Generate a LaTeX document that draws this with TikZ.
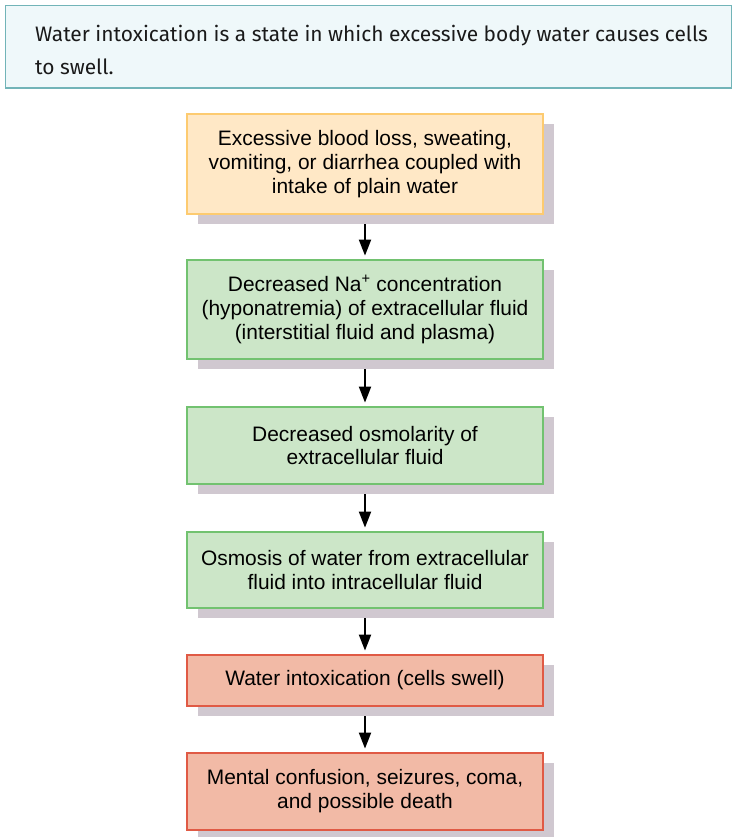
\documentclass[tikz,border=0pt]{standalone}
\usepackage{fontspec}
\setmainfont{Liberation Sans}
\newfontfamily\bannerfont{Fira Sans}
\usetikzlibrary{arrows.meta,shadows}
\definecolor{bannerfill}{HTML}{EFF8FA}
\definecolor{bannerline}{HTML}{72B4B8}
\definecolor{bannertext}{HTML}{1A1A1A}
\definecolor{orfill}{HTML}{FFE8C6}
\definecolor{orline}{HTML}{FDCB70}
\definecolor{grfill}{HTML}{CCE6C8}
\definecolor{grline}{HTML}{72C270}
\definecolor{rdfill}{HTML}{F2BAA6}
\definecolor{rdline}{HTML}{E05A45}
\definecolor{shadowc}{HTML}{D0C8D0}
\tikzset{
  box/.style={draw, line width=2.8bp, minimum width=356bp, align=center,
    font=\fontsize{21}{24}\selectfont, text=black, inner sep=0pt,
    drop shadow={shadow xshift=11bp, shadow yshift=-10bp, fill=shadowc, opacity=1, draw=none}},
  orbox/.style={box, fill=orfill, draw=orline},
  grbox/.style={box, fill=grfill, draw=grline},
  rdbox/.style={box, fill=rdfill, draw=rdline},
  arr/.style={line width=2bp, -{Triangle[length=16bp,width=12bp]}, shorten >=3bp},
  bannertxt/.style={anchor=base west, inner sep=0pt, text=bannertext,
    font=\bannerfont\fontsize{21}{32}\selectfont}
}
\begin{document}
\begin{tikzpicture}[x=1bp,y=-1bp]
\useasboundingbox (0,0) rectangle (733,837);
\fill[white] (0,0) rectangle (733,837);
\draw[fill=bannerfill, draw=bannerline, line width=1.2bp] (5.5,5.5) rectangle (731.5,87.5);
\draw[bannerline, line width=2bp] (5,87.5) -- (732,87.5);
\node[bannertxt] (t1) at (35,41) {Water intoxication is a state in which excessive body water causes cells};
\node[bannertxt] (t2) at (35,74) {to swell.};

\node[orbox, minimum height=100bp] (b1) at (365,164) {Excessive blood loss, sweating,\\vomiting, or diarrhea coupled with\\intake of plain water};
\node[grbox, minimum height=99bp] (b2) at (365,309.5) {Decreased Na\textsuperscript{+} concentration\\(hyponatremia) of extracellular fluid\\(interstitial fluid and plasma)};
\node[grbox, minimum height=77bp] (b3) at (365,445.5) {Decreased osmolarity of\\extracellular fluid};
\node[grbox, minimum height=76bp] (b4) at (365,570) {Osmosis of water from extracellular\\fluid into intracellular fluid};
\node[rdbox, minimum height=51bp] (b5) at (365,680.5) {Water intoxication (cells swell)};
\node[rdbox, minimum height=77bp] (b6) at (365,791.5) {Mental confusion, seizures, coma,\\and possible death};

\draw[arr] ([yshift=-9bp]b1.south) -- (b2.north);
\draw[arr] ([yshift=-9bp]b2.south) -- (b3.north);
\draw[arr] ([yshift=-9bp]b3.south) -- (b4.north);
\draw[arr] ([yshift=-9bp]b4.south) -- (b5.north);
\draw[arr] ([yshift=-9bp]b5.south) -- (b6.north);
\end{tikzpicture}
\end{document}
